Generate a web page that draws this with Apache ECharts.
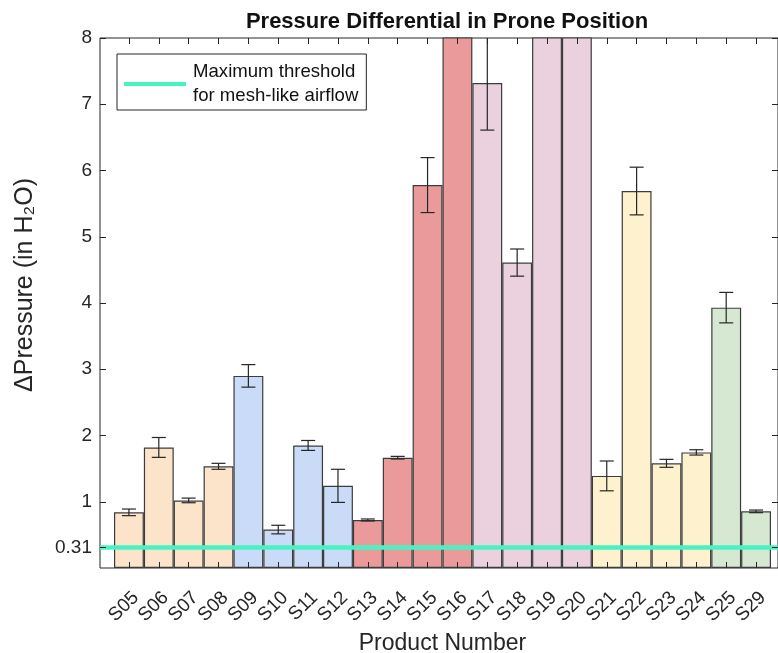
<!DOCTYPE html>
<html>
<head>
<meta charset="utf-8">
<script src="https://cdn.jsdelivr.net/npm/echarts@6/dist/echarts.min.js"></script>
<style>
  html, body { margin: 0; padding: 0; background: #fff; }
  #chart { width: 778px; height: 653px; }
</style>
</head>
<body>
<div id="chart"></div>
<script>
// product numbers on the x axis
var categories = ['S05', 'S06', 'S07', 'S08', 'S09', 'S10', 'S11', 'S12', 'S13', 'S14', 'S15',
  'S16', 'S17', 'S18', 'S19', 'S20', 'S21', 'S22', 'S23', 'S24', 'S25', 'S29'];
// mean pressure differential (in H2O); S16, S19, S20 run off the top of the axis
var pressure = [0.84, 1.82, 1.02, 1.535, 2.90, 0.58, 1.85, 1.24, 0.725, 1.665, 5.78,
  10.2, 7.32, 4.61, 11.5, 10.8, 1.39, 5.69, 1.58, 1.745, 3.93, 0.855];
// error bar half-length
var spread = [0.05, 0.15, 0.035, 0.045, 0.17, 0.065, 0.075, 0.25, 0.015, 0.02, 0.415,
  0.5, 0.71, 0.205, 0.8, 0.6, 0.225, 0.36, 0.06, 0.04, 0.23, 0.02];
// which product group each bar belongs to
var groupOf = [0, 0, 0, 0, 1, 1, 1, 1, 2, 2, 2, 2, 3, 3, 3, 3, 4, 4, 4, 4, 5, 5];
var yTicks = [0.31, 1, 2, 3, 4, 5, 6, 7, 8];
var threshold = 0.31;

var groupColors = ['#FCE4CB', '#C9DBF6', '#EA9A9A', '#EBD1DD', '#FEF2CE', '#D6E8D2'];
var ink = '#262626';
var lineColor = '#48F3C3';
var font = 'Liberation Sans';

var chart = echarts.init(document.getElementById('chart'));

var barData = pressure.map(function (v, i) {
  return { value: v, itemStyle: { color: groupColors[groupOf[i]] } };
});
var errData = pressure.map(function (v, i) {
  return [i, v - spread[i], v + spread[i]];
});

var tick = { show: true, inside: true, length: 6, lineStyle: { color: ink } };

var option = {
  animation: false,
  title: {
    text: 'Pressure Differential in Prone Position',
    left: 442,
    top: 6,
    textAlign: 'center',
    textStyle: { fontFamily: font, fontSize: 22, fontWeight: 'bold', color: '#111' }
  },
  legend: {
    left: 117,
    top: 54,
    orient: 'vertical',
    data: ['threshold'],
    icon: 'rect',
    itemWidth: 62,
    itemHeight: 4,
    itemGap: 0,
    padding: [6, 8, 2, 7],
    borderColor: ink,
    borderWidth: 1,
    backgroundColor: '#fff',
    formatter: function () {
      return 'Maximum threshold\nfor mesh-like airflow';
    },
    textStyle: { fontFamily: font, fontSize: 18.6, lineHeight: 24, color: '#111', padding: [0, 0, 0, 2] }
  },
  grid: [
    { left: 100, right: 0, top: 38, bottom: 85, outerBoundsMode: 'none', show: true, borderColor: ink, borderWidth: 1, backgroundColor: 'transparent' },
    { left: 114, right: 7, top: 38, bottom: 85, outerBoundsMode: 'none' }
  ],
  xAxis: [
    { gridIndex: 0, type: 'value', min: 0, max: 1, show: false },
    {
      gridIndex: 1, type: 'category', data: categories, position: 'bottom', z: 10,
      axisLine: { show: false },
      axisTick: Object.assign({ alignWithLabel: true, interval: 0 }, tick),
      axisLabel: {
        interval: 0, rotate: 45, align: 'right', verticalAlign: 'top', margin: 20,
        fontFamily: font, fontSize: 19, color: ink
      },
      name: 'Product Number',
      nameLocation: 'middle',
      nameGap: 40,
      nameTextStyle: { fontFamily: font, fontSize: 23, color: ink }
    },
    {
      gridIndex: 1, type: 'category', data: categories, position: 'top', z: 10,
      axisLine: { show: false },
      axisTick: Object.assign({ alignWithLabel: true, interval: 0 }, tick),
      axisLabel: { show: false }
    }
  ],
  yAxis: [
    {
      gridIndex: 0, type: 'value', min: 0, max: 8, position: 'left', z: 10,
      axisLine: { show: false },
      splitLine: { show: false },
      axisTick: Object.assign({ customValues: yTicks }, tick),
      axisLabel: { customValues: yTicks, margin: 8, fontFamily: font, fontSize: 19, color: ink },
      name: 'ΔPressure (in H₂O)',
      nameLocation: 'middle',
      nameGap: 62,
      nameTextStyle: { fontFamily: font, fontSize: 25, color: ink, padding: [0, 0, 0, 36] }
    },
    {
      gridIndex: 0, type: 'value', min: 0, max: 8, position: 'right', z: 10,
      axisLine: { show: false },
      splitLine: { show: false },
      axisTick: Object.assign({ customValues: yTicks }, tick),
      axisLabel: { show: false }
    },
    { gridIndex: 1, type: 'value', min: 0, max: 8, show: false }
  ],
  series: [
    {
      name: 'pressure',
      type: 'bar',
      xAxisIndex: 1,
      yAxisIndex: 2,
      barWidth: '100%',
      clip: true,
      data: barData,
      itemStyle: { borderColor: '#3c3c3c', borderWidth: 1.2 }
    },
    {
      name: 'error',
      type: 'custom',
      xAxisIndex: 1,
      yAxisIndex: 2,
      clip: true,
      data: errData,
      z: 3,
      renderItem: function (params, api) {
        var lo = api.coord([api.value(0), api.value(1)]);
        var hi = api.coord([api.value(0), api.value(2)]);
        var cap = 7;
        var style = { stroke: ink, lineWidth: 1.2 };
        return {
          type: 'group',
          children: [
            { type: 'line', shape: { x1: lo[0], y1: lo[1], x2: hi[0], y2: hi[1] }, style: style },
            { type: 'line', shape: { x1: lo[0] - cap, y1: lo[1], x2: lo[0] + cap, y2: lo[1] }, style: style },
            { type: 'line', shape: { x1: hi[0] - cap, y1: hi[1], x2: hi[0] + cap, y2: hi[1] }, style: style }
          ]
        };
      }
    },
    {
      name: 'threshold',
      type: 'line',
      xAxisIndex: 0,
      yAxisIndex: 0,
      showSymbol: false,
      z: 5,
      data: [[0, threshold], [1, threshold]],
      itemStyle: { color: lineColor },
      lineStyle: { color: lineColor, width: 4.5 }
    }
  ]
};

chart.setOption(option);
</script>
</body>
</html>
